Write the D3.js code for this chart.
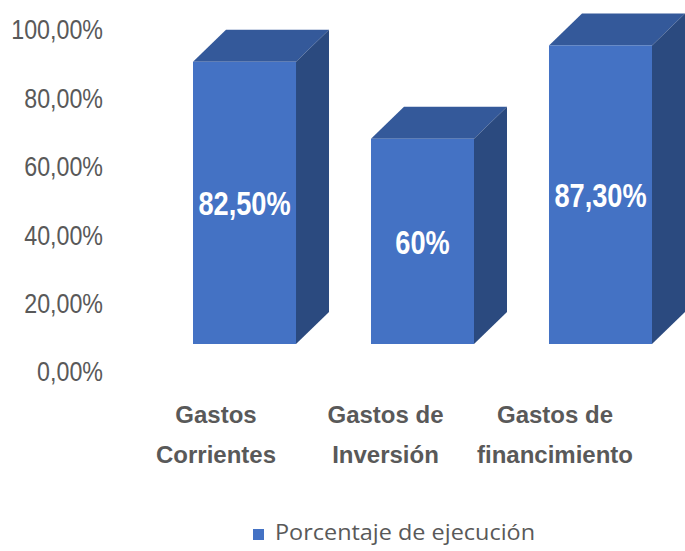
<!DOCTYPE html>
<html>
<head>
<meta charset="utf-8">
<script src="https://cdn.jsdelivr.net/npm/d3@7"></script>
<style>
  html, body { margin: 0; padding: 0; background: #ffffff; }
  svg { display: block; }
</style>
</head>
<body>
<svg id="chart" width="685" height="551"></svg>
<script>
// Execution percentage by spending type
const categories = [["Gastos", "Corrientes"], ["Gastos de", "Inversión"], ["Gastos de", "financimiento"]];
const values = [0.825, 0.60, 0.873];
const valueLabels = ["82,50%", "60%", "87,30%"];
const tickValues = [0, 0.2, 0.4, 0.6, 0.8, 1.0];
const tickLabels = ["0,00%", "20,00%", "40,00%", "60,00%", "80,00%", "100,00%"];
const seriesName = "Porcentaje de ejecución";

const svg = d3.select("#chart");
const keys = categories.map(c => c.join(" "));
const narrowFont = "'Liberation Sans', Arial, sans-serif";

// Back-wall value scale (used by the axis), the bar fronts sit in front of it
const y = d3.scaleLinear().domain([0, 1]).range([372, 30]);
const frontShift = -28;      // front face lifted relative to back wall
const depthX = 33, depthY = -32;

const x = d3.scaleBand().domain(keys).range([155.5, 689.5])
  .paddingInner(0.4213).paddingOuter(0.2107);
const xLabel = d3.scalePoint().domain(keys).range([216, 555]);

const colFront = "#4472C4", colTop = "#34599A", colSide = "#2B4A7F";

// Y axis (condensed lettering)
const axis = d3.axisLeft(y).tickValues(tickValues)
  .tickFormat((d, i) => tickLabels[i]).tickSize(0).tickPadding(0);
const ag = svg.append("g").attr("transform", "translate(103,0) scale(0.83,1)").call(axis);
ag.select(".domain").remove();
ag.selectAll("text")
  .attr("fill", "#595959")
  .style("font-family", narrowFont)
  .style("font-size", "28px");

// 3D bars
const bars = svg.append("g").selectAll("g").data(values).join("g");
bars.each(function(v, i) {
  const g = d3.select(this);
  const x0 = x(keys[i]), w = x.bandwidth();
  const top = y(v) + frontShift, bot = y(0) + frontShift;
  // top face
  g.append("path")
    .attr("d", `M${x0},${top}L${x0 + depthX},${top + depthY}L${x0 + w + depthX},${top + depthY}L${x0 + w},${top}Z`)
    .attr("fill", colTop);
  // side face
  g.append("path")
    .attr("d", `M${x0 + w},${top}L${x0 + w + depthX},${top + depthY}L${x0 + w + depthX},${bot + depthY}L${x0 + w},${bot}Z`)
    .attr("fill", colSide);
  // front face
  g.append("rect")
    .attr("x", x0).attr("y", top).attr("width", w).attr("height", bot - top)
    .attr("fill", colFront);
  // value label
  g.append("text")
    .attr("transform", `translate(${x0 + w / 2},${(top + bot) / 2}) scale(0.8,1)`)
    .attr("dy", "0.36em")
    .attr("text-anchor", "middle")
    .attr("fill", "#ffffff")
    .style("font-family", narrowFont)
    .style("font-weight", "bold")
    .style("font-size", "34px")
    .text(valueLabels[i]);
});

// Category labels
const cl = svg.append("g").selectAll("text").data(categories).join("text")
  .attr("text-anchor", "middle")
  .attr("fill", "#595959")
  .style("font-family", "'Liberation Sans', Arial, sans-serif")
  .style("font-weight", "bold")
  .style("font-size", "24px");
cl.each(function(lines, i) {
  const t = d3.select(this);
  lines.forEach((ln, j) => {
    t.append("tspan").attr("x", xLabel(keys[i])).attr("y", 423 + j * 40).text(ln);
  });
});

// Legend
const lg = svg.append("g");
lg.append("rect").attr("x", 253).attr("y", 529).attr("width", 11).attr("height", 11).attr("fill", colFront);
lg.append("text").attr("x", 275).attr("y", 540)
  .attr("fill", "#595959")
  .attr("textLength", 260).attr("lengthAdjust", "spacingAndGlyphs")
  .style("font-family", "'Open Sans', sans-serif")
  .style("font-size", "22px")
  .text(seriesName);
</script>
</body>
</html>
